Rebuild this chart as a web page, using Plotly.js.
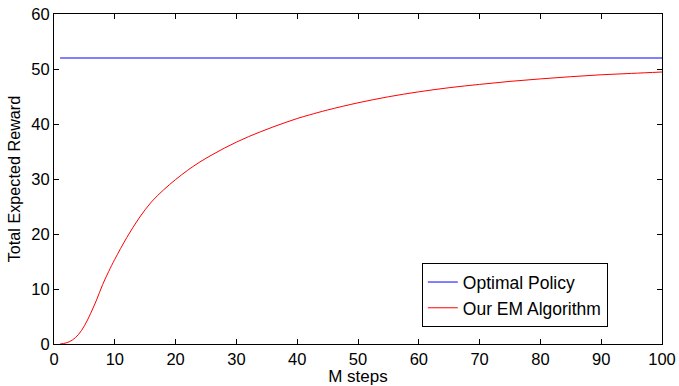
<!DOCTYPE html>
<html>
<head>
<meta charset="utf-8">
<script src="https://cdn.plot.ly/plotly-3.0.1.min.js"></script>
<style>body{margin:0;padding:0;background:#fff;}#chart{width:679px;height:386px;}</style>
</head>
<body>
<div id="chart"></div>
<script>
var optimalX = [1, 100];
var optimalY = [52, 52];
var emX = [1, 2, 3, 4, 5, 6, 7, 8, 9, 10, 12, 14, 16, 18, 20, 22, 24, 26, 28, 30, 32, 34, 36, 38, 40, 42, 45, 50, 55, 60, 65, 70, 75, 80, 85, 90, 95, 100];
var emY = [0, 0.2, 0.7, 1.7, 3.3, 5.5, 8.0, 10.8, 13.2, 15.4, 19.4, 22.9, 25.8, 28.0, 29.9, 31.6, 33.1, 34.4, 35.6, 36.7, 37.7, 38.6, 39.45, 40.25, 41.0, 41.65, 42.55, 43.85, 44.95, 45.85, 46.6, 47.2, 47.75, 48.2, 48.6, 48.95, 49.2, 49.45];
var seriesNames = ["Optimal Policy", "Our EM Algorithm"];
var xTicks = [0, 10, 20, 30, 40, 50, 60, 70, 80, 90, 100];
var yTicks = [0, 10, 20, 30, 40, 50, 60];

var fam = "Liberation Sans, Arial, sans-serif";
var tickFont = {family: fam, size: 16.5, color: "#000"};
var legFont = {family: fam, size: 17.5, color: "#000"};
var xTitleFont = {family: fam, size: 17, color: "#000"};
var yTitleFont = {family: fam, size: 16.2, color: "#000"};
var traces = [
  {x: optimalX, y: optimalY, mode: "lines", name: seriesNames[0], line: {color: "#0000ff", width: 1}},
  {x: emX, y: emY, mode: "lines", name: seriesNames[1], line: {color: "#ff0000", width: 1, shape: "spline", smoothing: 1}}
];
var axisCommon = {
  showgrid: false, zeroline: false, showline: true, linecolor: "#000", linewidth: 1,
  mirror: "ticks", ticks: "inside", ticklen: 5, tickcolor: "#000", tickwidth: 1,
  tickfont: tickFont
};
var layout = {
  width: 679, height: 386,
  margin: {l: 54, r: 17, t: 14, b: 42},
  paper_bgcolor: "#fff", plot_bgcolor: "#fff",
  font: tickFont,
  showlegend: true,
  legend: {x: 0.605, y: 0.245, xanchor: "left", yanchor: "top", bgcolor: "#fff",
           bordercolor: "#000", borderwidth: 1, font: legFont, tracegroupgap: 0},
  xaxis: Object.assign({}, axisCommon, {range: [0, 100], tickvals: xTicks, ticktext: xTicks.map(String),
          title: {text: "M steps", font: xTitleFont, standoff: 6}}),
  yaxis: Object.assign({}, axisCommon, {range: [0, 60], tickvals: yTicks, ticktext: yTicks.map(String),
          title: {text: "Total Expected Reward", font: yTitleFont, standoff: 6}})
};
Plotly.newPlot("chart", traces, layout, {displayModeBar: false, staticPlot: true});
</script>
</body>
</html>
